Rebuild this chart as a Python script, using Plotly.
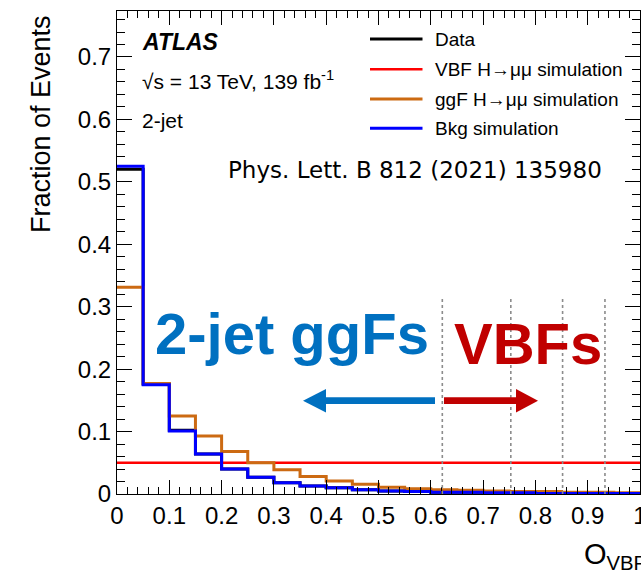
import plotly.graph_objects as go

# ---------------- data ----------------
bin_edges = [0.00, 0.05, 0.10, 0.15, 0.20, 0.25, 0.30, 0.35, 0.40, 0.45, 0.50,
             0.55, 0.60, 0.65, 0.70, 0.75, 0.80, 0.85, 0.90, 0.95, 1.00]
data_frac = [0.520, 0.176, 0.102, 0.064, 0.040, 0.027, 0.018, 0.013, 0.010, 0.007,
             0.005, 0.004, 0.003, 0.003, 0.002, 0.002, 0.001, 0.001, 0.001, 0.001]
vbf_frac = [0.050, 0.050, 0.050, 0.050, 0.050, 0.050, 0.050, 0.050, 0.050, 0.050,
            0.050, 0.050, 0.050, 0.050, 0.050, 0.050, 0.050, 0.050, 0.050, 0.050]
ggf_frac = [0.331, 0.177, 0.125, 0.093, 0.068, 0.050, 0.039, 0.028, 0.021, 0.0155,
            0.011, 0.0085, 0.007, 0.006, 0.005, 0.004, 0.004, 0.003, 0.003, 0.002]
bkg_frac = [0.525, 0.175, 0.101, 0.064, 0.040, 0.027, 0.018, 0.013, 0.010, 0.007,
            0.005, 0.004, 0.003, 0.003, 0.002, 0.002, 0.001, 0.001, 0.001, 0.001]
category_boundaries = [0.622, 0.753, 0.852, 0.933]
series_names = ["Data", "VBF H\u2192\u03bc\u03bc simulation", "ggF H\u2192\u03bc\u03bc simulation", "Bkg simulation"]
x_tick_vals = [0, 0.1, 0.2, 0.3, 0.4, 0.5, 0.6, 0.7, 0.8, 0.9, 1.0]
y_tick_vals = [0, 0.1, 0.2, 0.3, 0.4, 0.5, 0.6, 0.7]

# ---------------- styles ----------------
W, H = 641, 570
ML, MR, MT, MB = 117, 1, 11, 76
PW, PH = W - ML - MR, H - MT - MB
FONT = "Liberation Sans"
colors = ["#000000", "#ff0000", "#cc6a12", "#0000ff"]
widths = [3, 2.5, 3, 3]


def pxp(xp):
    return (xp - ML) / PW


def pyp(yp):
    return (H - MB - yp) / PH


fig = go.Figure()
for vals, c, w, n in zip([data_frac, vbf_frac, ggf_frac, bkg_frac], colors, widths, series_names):
    fig.add_trace(go.Scatter(
        x=bin_edges, y=list(vals) + [vals[-1]], mode="lines", line_shape="hv",
        line=dict(color=c, width=w), name=n, showlegend=False, hoverinfo="skip"))

shapes = []
# category boundary dashed lines
for b in category_boundaries:
    shapes.append(dict(type="line", xref="x", yref="paper", x0=b, x1=b,
                       y0=0, y1=pyp(297), line=dict(color="#8c8c8c", width=1.6, dash="3px,3px")))

# arrows (paper coords)
ay = 400.7
blue_c, red_c = "#0070c0", "#c00000"
shapes.append(dict(type="rect", xref="paper", yref="paper", x0=pxp(324), x1=pxp(435),
                   y0=pyp(ay + 3.4), y1=pyp(ay - 3.4), fillcolor=blue_c, line=dict(width=0)))
shapes.append(dict(type="path", xref="paper", yref="paper",
                   path=f"M {pxp(303)},{pyp(ay)} L {pxp(326)},{pyp(389)} L {pxp(326)},{pyp(412.4)} Z",
                   fillcolor=blue_c, line=dict(width=0)))
shapes.append(dict(type="rect", xref="paper", yref="paper", x0=pxp(444), x1=pxp(518),
                   y0=pyp(ay + 3.4), y1=pyp(ay - 3.4), fillcolor=red_c, line=dict(width=0)))
shapes.append(dict(type="path", xref="paper", yref="paper",
                   path=f"M {pxp(538)},{pyp(ay)} L {pxp(516)},{pyp(389)} L {pxp(516)},{pyp(412.4)} Z",
                   fillcolor=red_c, line=dict(width=0)))

# legend
leg_y = [39, 69.3, 99, 128.3]
annotations = []
for yy, c, w, n in zip(leg_y, colors, widths, series_names):
    shapes.append(dict(type="line", xref="paper", yref="paper", x0=pxp(370), x1=pxp(422.5),
                       y0=pyp(yy), y1=pyp(yy), line=dict(color=c, width=w)))
    annotations.append(dict(text=n, xref="paper", yref="paper", x=pxp(433), y=pyp(yy),
                            xanchor="left", yanchor="middle", showarrow=False,
                            font=dict(family=FONT, size=19, color="black")))


def txt(t, xp, yp, size, color="black", xanchor="left", yanchor="middle", family=FONT, angle=0):
    annotations.append(dict(text=t, xref="paper", yref="paper", x=pxp(xp), y=pyp(yp),
                            xanchor=xanchor, yanchor=yanchor, showarrow=False, textangle=angle,
                            font=dict(family=family, size=size, color=color)))


txt("<b><i>ATLAS</i></b>", 140, 42, 23)
txt("\u221as = 13 TeV, 139 fb<sup>-1</sup>", 140, 80, 21)
txt("2-jet", 140, 120, 21)
txt("Phys. Lett. B 812 (2021) 135980", 415, 170, 23, xanchor="center", family="DejaVu Sans")
txt("<b>2-jet ggFs</b>", 153, 333, 58, color=blue_c)
txt("<b>VBFs</b>", 452, 343, 58, color=red_c)
txt("Fraction of Events", 41, 13, 27, xanchor="center", yanchor="top", angle=-90)
txt("O<sub>VBF</sub>", 582, 536, 29, yanchor="top")

fig.update_layout(
    width=W, height=H, margin=dict(l=ML, r=MR, t=MT, b=MB, autoexpand=False),
    paper_bgcolor="white", plot_bgcolor="white",
    shapes=shapes, annotations=annotations, showlegend=False,
    font=dict(family=FONT, color="black"),
    xaxis=dict(range=[0, 1], tickmode="array", tickvals=x_tick_vals,
               ticktext=[f"{v:g}" for v in x_tick_vals], automargin=False,
               ticks="inside", ticklen=14, tickwidth=1, tickcolor="black",
               showline=True, linecolor="black", linewidth=1, mirror="ticks",
               showgrid=False, zeroline=False, ticklabeloverflow="allow",
               tickfont=dict(family=FONT, size=24, color="black"),
               minor=dict(dtick=0.02, tick0=0, ticks="inside", ticklen=7, tickwidth=1,
                          tickcolor="black", showgrid=False)),
    yaxis=dict(range=[0, PH / 624.3], tickmode="array", tickvals=y_tick_vals,
               ticktext=[f"{v:g}" for v in y_tick_vals], automargin=False,
               ticks="inside", ticklen=15, tickwidth=1, tickcolor="black",
               showline=True, linecolor="black", linewidth=1, mirror="ticks",
               showgrid=False, zeroline=False, ticklabeloverflow="allow",
               tickfont=dict(family=FONT, size=24, color="black"),
               minor=dict(dtick=0.02, tick0=0, ticks="inside", ticklen=8, tickwidth=1,
                          tickcolor="black", showgrid=False)),
)

fig.write_html("out.html")
